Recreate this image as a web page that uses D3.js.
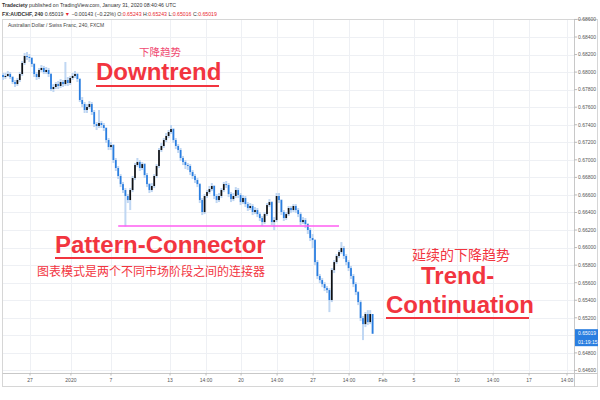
<!DOCTYPE html>
<html><head><meta charset="utf-8">
<script src="https://cdn.jsdelivr.net/npm/d3@7"></script>
<style>
html,body{margin:0;padding:0;background:#fff;}
svg{display:block;font-family:"Liberation Sans",Arial,sans-serif;}
</style></head>
<body>
<svg id="c" width="600" height="400"></svg>
<script>
// ---- data (AUDCHF 240, FXCM) ----
const firstOpen = 0.67967;
const closes = [
0.67944,0.67956,0.67978,0.67944,0.67887,0.67864,0.67910,0.67978,0.68104,0.68184,
0.68172,0.68161,0.68092,0.67978,0.67944,0.68024,0.68047,0.68001,0.68024,0.67978,
0.67807,0.67830,0.67864,0.67842,0.67887,0.67864,0.67910,0.67876,0.67933,0.67956,
0.67978,0.67921,0.67682,0.67636,0.67568,0.67602,0.67636,0.67545,0.67408,0.67386,
0.67420,0.67397,0.67363,0.67226,0.67146,0.67169,0.66998,0.66907,0.66816,0.66724,
0.66656,0.66588,0.66542,0.66656,0.66793,0.66941,0.66975,0.66907,0.66952,0.66827,
0.66724,0.66656,0.66702,0.66816,0.66930,0.67112,0.67158,0.67226,0.67272,0.67317,
0.67351,0.67226,0.67158,0.67112,0.67021,0.66975,0.66941,0.66930,0.66861,0.66816,
0.66770,0.66724,0.66542,0.66405,0.66588,0.66633,0.66667,0.66702,0.66588,0.66542,
0.66588,0.66656,0.66724,0.66713,0.66610,0.66553,0.66588,0.66656,0.66599,0.66519,
0.66565,0.66496,0.66451,0.66474,0.66405,0.66428,0.66382,0.66337,0.66291,0.66382,
0.66485,0.66519,0.66291,0.66314,0.66588,0.66542,0.66405,0.66337,0.66382,0.66451,
0.66428,0.66474,0.66428,0.66382,0.66291,0.66314,0.66268,0.66200,0.66109,0.66086,
0.65835,0.65676,0.65630,0.65584,0.65539,0.65516,0.65402,0.65744,0.65835,0.65904,
0.65949,0.65995,0.65904,0.65835,0.65767,0.65676,0.65584,0.65493,0.65379,0.65197,
0.65128,0.65243,0.65151,0.65243,0.65019];
const highs = [
0.67990,0.67990,0.68012,0.68001,0.67956,0.67910,0.67933,0.68001,0.68127,0.68218,
0.68229,0.68206,0.68172,0.68104,0.68001,0.68047,0.68081,0.68070,0.68058,0.68047,
0.67990,0.67864,0.67887,0.67898,0.67921,0.67910,0.68115,0.67944,0.67956,0.67990,
0.68012,0.67990,0.67933,0.67716,0.67659,0.67636,0.67670,0.67659,0.67568,0.67431,
0.67568,0.67443,0.67420,0.67374,0.67249,0.67203,0.67180,0.67021,0.66930,0.66838,
0.66748,0.66679,0.66610,0.66679,0.66816,0.66964,0.67021,0.66998,0.66975,0.66964,
0.66850,0.66736,0.66736,0.66838,0.66952,0.67135,0.67192,0.67249,0.67306,0.67340,
0.67397,0.67363,0.67249,0.67180,0.67135,0.67044,0.66998,0.66964,0.66952,0.66884,
0.66838,0.66793,0.66736,0.66565,0.66610,0.66656,0.66702,0.66736,0.66713,0.66610,
0.66622,0.66679,0.66748,0.66759,0.66736,0.66633,0.66622,0.66690,0.66679,0.66622,
0.66599,0.66588,0.66519,0.66508,0.66496,0.66462,0.66451,0.66405,0.66360,0.66405,
0.66508,0.66553,0.66530,0.66348,0.66622,0.66622,0.66553,0.66428,0.66405,0.66474,
0.66474,0.66496,0.66496,0.66451,0.66405,0.66348,0.66337,0.66280,0.66223,0.66155,
0.66098,0.65858,0.65699,0.65653,0.65607,0.65562,0.65539,0.65767,0.65858,0.65926,
0.65972,0.66063,0.66018,0.65926,0.65858,0.65790,0.65699,0.65607,0.65505,0.65402,
0.65220,0.65266,0.65288,0.65288,0.65243];
const lows = [
0.67910,0.67921,0.67944,0.67921,0.67864,0.67830,0.67842,0.67887,0.67956,0.68081,
0.68138,0.68115,0.68058,0.67944,0.67910,0.67921,0.68001,0.67978,0.67978,0.67944,
0.67784,0.67773,0.67807,0.67807,0.67819,0.67830,0.67842,0.67842,0.67853,0.67910,
0.67933,0.67887,0.67659,0.67602,0.67534,0.67534,0.67579,0.67511,0.67374,0.67340,
0.67363,0.67363,0.67329,0.67192,0.67112,0.67112,0.66964,0.66873,0.66782,0.66690,
0.66622,0.66240,0.66508,0.66428,0.66633,0.66770,0.66918,0.66873,0.66884,0.66793,
0.66690,0.66622,0.66633,0.66679,0.66793,0.66907,0.67089,0.67135,0.67203,0.67249,
0.67294,0.67192,0.67123,0.67078,0.66987,0.66941,0.66896,0.66884,0.66827,0.66782,
0.66736,0.66690,0.66508,0.66371,0.66382,0.66565,0.66610,0.66644,0.66553,0.66508,
0.66519,0.66565,0.66633,0.66679,0.66576,0.66519,0.66530,0.66565,0.66565,0.66485,
0.66496,0.66462,0.66417,0.66428,0.66371,0.66382,0.66348,0.66303,0.66246,0.66268,
0.66360,0.66462,0.66257,0.66200,0.66291,0.66508,0.66371,0.66303,0.66314,0.66360,
0.66394,0.66405,0.66394,0.66348,0.66257,0.66268,0.66223,0.66155,0.66075,0.65995,
0.65802,0.65642,0.65596,0.65550,0.65505,0.65482,0.65265,0.65379,0.65710,0.65812,
0.65881,0.65926,0.65870,0.65801,0.65733,0.65642,0.65550,0.65459,0.65345,0.65163,
0.64946,0.65094,0.65117,0.65128,0.65016];
const priceTicks = [0.646,0.648,0.650,0.652,0.654,0.656,0.658,0.660,0.662,0.664,0.666,0.668,0.670,0.672,0.674,0.676,0.678,0.680,0.682,0.684,0.686];
const timeTickBars = [11.25,28.3,45,69.6,84.6,99.2,114.2,129.2,144.2,158.3,171.25,189.2,204.2,219.2,235];
const timeTickLabels = ["27","2020","7","13","14:00","20","14:00","27","14:00","Feb","5","10","14:00","17","14:00"];
const connectorLevel = 0.66246;
const connectorBars = [48, 140];
const lastPrice = 0.65019;
const countdown = "01:19:15";

// ---- build ----
const opens = [firstOpen].concat(closes.slice(0, -1));
const bars = closes.map((c, i) => ({i, o: opens[i], h: highs[i], l: lows[i], c}));

const svg = d3.select("#c");
const x = d3.scaleLinear().domain([0, 238]).range([3, 574.2]);
const y = d3.scaleLinear().domain([0.646, 0.688]).range([370.45, 1.9]);

const plotL = 2, plotR = 574, plotT = 20, plotB = 373;
const red = "#f2353f";

// header
const h1 = svg.append("text").attr("x", 2).attr("y", 7).attr("font-size", 5.2).attr("fill", "#333");
h1.append("tspan").attr("font-weight", "bold").text("Tradeciety");
h1.append("tspan").text(" published on TradingView.com, January 31, 2020 08:40:46 UTC");
const h2 = svg.append("text").attr("x", 2).attr("y", 15.5).attr("font-size", 5.2).attr("fill", "#333");
h2.append("tspan").attr("font-weight", "bold").text("FX:AUDCHF, 240");
h2.append("tspan").text(" 0.65019 ");
h2.append("tspan").attr("fill", "#e8262e").text("▼");
h2.append("tspan").text(" −0.00143 (−0.22%) O:");
h2.append("tspan").attr("fill", "#e8262e").text("0.65243");
h2.append("tspan").text(" H:");
h2.append("tspan").attr("fill", "#e8262e").text("0.65243");
h2.append("tspan").text(" L:");
h2.append("tspan").attr("fill", "#e8262e").text("0.65016");
h2.append("tspan").text(" C:");
h2.append("tspan").attr("fill", "#e8262e").text("0.65019");

// clip
svg.append("clipPath").attr("id", "pc").append("rect")
  .attr("x", plotL).attr("y", plotT).attr("width", plotR - plotL).attr("height", plotB - plotT);

// grid
const grid = svg.append("g").attr("clip-path", "url(#pc)");
grid.selectAll("line.h").data(priceTicks).join("line")
  .attr("x1", plotL).attr("x2", plotR).attr("y1", d => Math.round(y(d)) + 0.5).attr("y2", d => Math.round(y(d)) + 0.5)
  .attr("stroke", "#eef0f4").attr("stroke-width", 1);
grid.selectAll("line.v").data(timeTickBars).join("line")
  .attr("y1", plotT).attr("y2", plotB).attr("x1", d => Math.round(x(d)) + 0.5).attr("x2", d => Math.round(x(d)) + 0.5)
  .attr("stroke", "#eef0f4").attr("stroke-width", 1);

// frame
svg.append("rect").attr("x", 2.5).attr("y", 19.5).attr("width", 595).attr("height", 367)
  .attr("fill", "none").attr("stroke", "#d6d6d6").attr("stroke-width", 1);
svg.append("line").attr("x1", plotR + 0.5).attr("x2", plotR + 0.5).attr("y1", 19.5).attr("y2", 387)
  .attr("stroke", "#c8c8c8");
svg.append("line").attr("x1", 2.5).attr("x2", 597.5).attr("y1", plotB + 0.5).attr("y2", plotB + 0.5)
  .attr("stroke", "#c8c8c8");

svg.append("text").attr("x", 8).attr("y", 26.5).attr("font-size", 5).attr("fill", "#444")
  .text("Australian Dollar / Swiss Franc, 240, FXCM");

// candles
const cg = svg.append("g").attr("clip-path", "url(#pc)");
const bw = 1.7;
cg.selectAll("rect.w").data(bars).join("rect").attr("class", "w")
  .attr("x", d => x(d.i) - 1).attr("width", 2)
  .attr("y", d => y(d.h)).attr("height", d => Math.max(0.8, y(d.l) - y(d.h)))
  .attr("fill", "#b9d3f2").attr("opacity", 0.9);
cg.selectAll("rect.b").data(bars).join("rect").attr("class", "b")
  .attr("x", d => x(d.i) - bw / 2).attr("width", bw)
  .attr("y", d => y(Math.max(d.o, d.c)))
  .attr("height", d => Math.max(1, Math.abs(y(d.o) - y(d.c))))
  .attr("fill", d => d.c >= d.o ? "#111" : "#2a7ee0");

// connector line
svg.append("line")
  .attr("x1", x(connectorBars[0])).attr("x2", x(connectorBars[1]))
  .attr("y1", y(connectorLevel)).attr("y2", y(connectorLevel))
  .attr("stroke", "#ff5ef2").attr("stroke-width", 1.6);

// price axis
const ly = y(lastPrice);
const pa = svg.append("g");
pa.selectAll("line").data(priceTicks).join("line")
  .attr("x1", plotR).attr("x2", plotR + 3).attr("y1", d => y(d)).attr("y2", d => y(d)).attr("stroke", "#bbb");
pa.selectAll("text").data(priceTicks.filter(d => y(d) > 17 && Math.abs(y(d) - (ly + 4)) > 12)).join("text")
  .attr("x", plotR + 4).attr("y", d => y(d) + 1.8).attr("font-size", 5).attr("fill", "#555")
  .text(d => d3.format(".5f")(d));

// last price box
svg.append("rect").attr("x", plotR + 1).attr("y", ly - 4.5).attr("width", 23).attr("height", 17).attr("fill", "#2a7ee0");
svg.append("text").attr("x", plotR + 4).attr("y", ly + 1.8).attr("font-size", 5).attr("fill", "#fff").text(d3.format(".5f")(lastPrice));
svg.append("text").attr("x", plotR + 4).attr("y", ly + 10).attr("font-size", 5).attr("fill", "#fff").text(countdown);

// time axis
const ta = svg.append("g");
ta.selectAll("line").data(timeTickBars).join("line")
  .attr("x1", d => x(d)).attr("x2", d => x(d)).attr("y1", plotB).attr("y2", plotB + 2.5).attr("stroke", "#bbb");
ta.selectAll("text").data(timeTickBars).join("text")
  .attr("x", d => x(d)).attr("y", plotB + 9).attr("text-anchor", "middle").attr("font-size", 5).attr("fill", "#555")
  .text((d, i) => timeTickLabels[i]);

// annotations
const cjk = "'Noto Sans CJK SC', sans-serif";
svg.append("text").attr("x", 160).attr("y", 55.5).attr("text-anchor", "middle")
  .attr("font-family", cjk).attr("font-size", 10.5).attr("fill", "#f04a72").text("下降趋势");
svg.append("text").attr("x", 96).attr("y", 80).attr("font-size", 24).attr("font-weight", "bold")
  .attr("fill", red).text("Downtrend");
svg.append("rect").attr("x", 96).attr("y", 85).attr("width", 123).attr("height", 2).attr("fill", red);

svg.append("text").attr("x", 55).attr("y", 253).attr("font-size", 24).attr("font-weight", "bold")
  .attr("fill", red).text("Pattern-Connector");
svg.append("rect").attr("x", 55).attr("y", 257).attr("width", 208).attr("height", 2).attr("fill", red);
svg.append("text").attr("x", 37).attr("y", 276).attr("font-family", cjk).attr("font-size", 12)
  .attr("fill", red).text("图表模式是两个不同市场阶段之间的连接器");

svg.append("text").attr("x", 412).attr("y", 260).attr("font-family", cjk).attr("font-size", 14)
  .attr("fill", red).text("延续的下降趋势");
svg.append("text").attr("x", 421).attr("y", 284).attr("font-size", 24).attr("font-weight", "bold")
  .attr("fill", red).text("Trend-");
svg.append("text").attr("x", 386).attr("y", 313).attr("font-size", 24).attr("font-weight", "bold")
  .attr("fill", red).text("Continuation");
svg.append("rect").attr("x", 386).attr("y", 317).attr("width", 143).attr("height", 2).attr("fill", red);
</script>
</body></html>
